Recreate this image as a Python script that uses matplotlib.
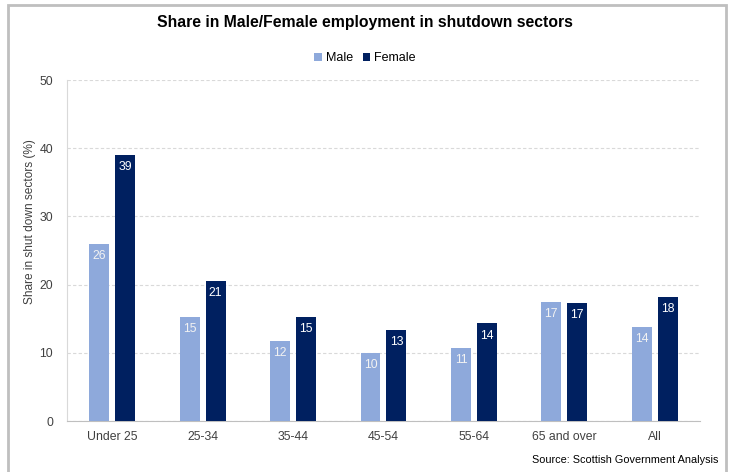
import numpy as np
import matplotlib.pyplot as plt
from matplotlib.patches import Rectangle

plt.rcParams['font.family'] = ['Liberation Sans', 'DejaVu Sans']

groups = ['Under 25', '25-34', '35-44', '45-54', '55-64', '65 and over', 'All']
male = [25.95, 15.2, 11.8, 10.0, 10.7, 17.4, 13.8]
female = [39.0, 20.6, 15.3, 13.4, 14.3, 17.3, 18.2]

male_col = '#8EA9DB'
female_col = '#002060'

fig = plt.figure(figsize=(7.3, 4.72), dpi=100)
ax = fig.add_axes([0.0918, 0.108, 0.867, 0.7225])

x = np.arange(len(groups))
w = 0.22
b1 = ax.bar(x - 0.143, male, w, color=male_col, label='Male', zorder=3)
b2 = ax.bar(x + 0.143, female, w, color=female_col, label='Female', zorder=3)

for bars, vals, tc in [(b1, male, '#f2f2f2'), (b2, female, 'white')]:
    for r, v in zip(bars, vals):
        ax.text(r.get_x() + r.get_width() / 2, v - 0.9, f'{round(v):.0f}',
                ha='center', va='top', color=tc, fontsize=8.8, zorder=4)

ax.set_xlim(-0.5, len(groups) - 0.5)
ax.set_ylim(0, 50)
ax.set_yticks(range(0, 51, 10))
ax.set_xticks(x)
ax.set_xticklabels(groups)
ax.tick_params(length=0, labelsize=8.8, colors='#404040')
ax.tick_params(axis='y', pad=10)
ax.tick_params(axis='x', pad=7)
ax.yaxis.grid(True, linestyle=(0, (3, 2)), color='#d9d9d9', linewidth=0.8, zorder=0)
for s in ['top', 'right']:
    ax.spines[s].set_visible(False)
ax.spines['left'].set_color('#d9d9d9')
ax.spines['bottom'].set_color('#bfbfbf')

fig.text(30 / 730, 0.53, 'Share in shut down sectors (%)', rotation=90,
         ha='center', va='center', fontsize=8.6, color='#404040')

fig.text(0.5, 0.952, 'Share in Male/Female employment in shutdown sectors',
         ha='center', va='center', fontsize=11.3, fontweight='bold', color='#000000')
fig.legend(handles=[b1, b2], loc='center', bbox_to_anchor=(0.5, 0.877), ncol=2,
           frameon=False, fontsize=9, handlelength=0.6, handleheight=0.6,
           handletextpad=0.3, columnspacing=0.8)
fig.text(0.984, 0.025, 'Source: Scottish Government Analysis', ha='right', va='center',
         fontsize=7.8, color='#000000')

fig.patches.append(Rectangle((0.011, -0.01), 0.984, 0.999, transform=fig.transFigure,
                             fill=False, edgecolor='#bfbfbf', linewidth=2))

fig.savefig('out.png', dpi=100)
